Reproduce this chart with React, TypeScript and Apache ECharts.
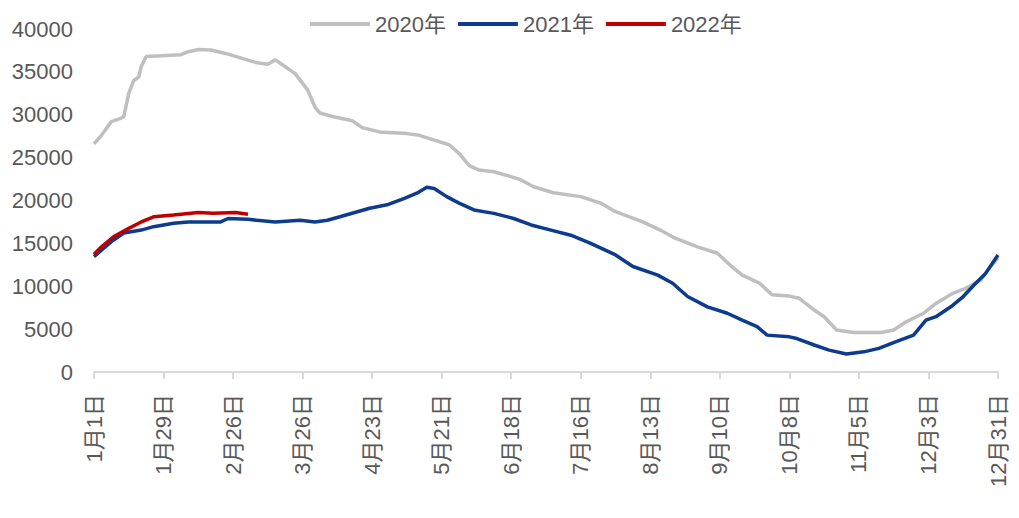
import React, { useEffect, useRef } from "react";
import * as echarts from "echarts";

const tickLabels = ["1月1日", "1月29日", "2月26日", "3月26日", "4月23日", "5月21日", "6月18日", "7月16日", "8月13日", "9月10日", "10月8日", "11月5日", "12月3日", "12月31日"];
const seriesNames = ["2020年", "2021年", "2022年"];

// [day of year (0 = 1月1日), value]
const data2020: [number, number][] = [
  [0, 26600], [3, 27600], [7, 29200], [11, 29600], [12, 29800], [14, 32500], [16, 34000], [18, 34400],
  [19, 35600], [21, 36800], [35, 37000], [38, 37350], [42, 37600], [47, 37550], [53, 37150], [57, 36800],
  [65, 36100], [70, 35900], [73, 36400], [75, 36000], [81, 34800], [86, 32900], [89, 30900], [91, 30200],
  [96, 29800], [104, 29300], [108, 28500], [115, 28000], [126, 27800], [131, 27600], [137, 27050],
  [143, 26500], [147, 25500], [151, 24100], [155, 23550], [161, 23350], [166, 22950], [172, 22400],
  [177, 21600], [185, 20900], [196, 20450], [204, 19700], [210, 18700], [221, 17500], [228, 16550],
  [234, 15600], [243, 14600], [251, 13850], [256, 12500], [261, 11300], [268, 10350], [273, 9000],
  [280, 8850], [284, 8600], [290, 7230], [294, 6450], [299, 4900], [306, 4600], [317, 4600], [322, 4900],
  [327, 5850], [334, 6850], [339, 8000], [346, 9200], [351, 9750], [357, 10700], [361, 12300], [364, 13300],
];

const data2021: [number, number][] = [
  [0, 13450], [3, 14200], [7, 15200], [12, 16200], [19, 16550], [24, 16950], [32, 17350], [38, 17500],
  [51, 17500], [54, 17900], [62, 17800], [73, 17500], [83, 17700], [89, 17500], [94, 17700], [99, 18100],
  [111, 19100], [118, 19500], [125, 20250], [130, 20850], [134, 21550], [137, 21400], [142, 20450],
  [147, 19700], [153, 18900], [161, 18500], [169, 17900], [176, 17150], [184, 16550], [192, 15950],
  [200, 15000], [210, 13650], [217, 12300], [227, 11300], [233, 10350], [239, 8800], [247, 7600],
  [255, 6850], [261, 6050], [267, 5300], [271, 4300], [280, 4100], [283, 3900], [290, 3150], [296, 2550],
  [303, 2100], [310, 2350], [316, 2750], [323, 3550], [330, 4300], [335, 6050], [339, 6450], [345, 7600],
  [350, 8800], [355, 10350], [359, 11500], [364, 13650],
];

const data2022: [number, number][] = [
  [0, 13700], [3, 14600], [8, 15800], [14, 16750], [19, 17500], [24, 18100], [32, 18300], [42, 18600],
  [48, 18500], [57, 18600], [62, 18400],
];

const colors = ["#bfbfbf", "#0d3b8e", "#c00000"];
const FONT = "'Liberation Sans', 'Noto Sans CJK SC', sans-serif";

export default function App() {
  const ref = useRef<HTMLDivElement>(null);
  useEffect(() => {
    if (!ref.current) return;
    const chart = echarts.init(ref.current, null, { renderer: "svg" });
    const all = [data2020, data2021, data2022];
    chart.setOption({
      animation: false,
      textStyle: { fontFamily: FONT },
      legend: {
        left: 297,
        top: 0,
        icon: "rect",
        itemWidth: 60,
        itemHeight: 4,
        itemGap: 12,
        textStyle: { fontSize: 22, color: "#595959", fontFamily: FONT },
        data: seriesNames,
      },
      grid: { left: 86, right: 13, top: 21, bottom: 138, containLabel: false },
      xAxis: {
        type: "value",
        min: 0,
        max: 364,
        interval: 28,
        axisLine: { show: true, lineStyle: { color: "#d9d9d9", width: 2 } },
        axisTick: { show: true, length: 7, lineStyle: { color: "#d9d9d9", width: 2 } },
        splitLine: { show: false },
        axisLabel: {
          rotate: 90,
          margin: 22,
          fontSize: 22,
          color: "#595959",
          fontFamily: FONT,
          formatter: (v: number) => tickLabels[Math.round(v / 28)] ?? "",
        },
      },
      yAxis: {
        type: "value",
        min: 0,
        max: 40000,
        interval: 5000,
        axisLine: { show: false },
        axisTick: { show: false },
        splitLine: { show: false },
        axisLabel: { fontSize: 22, color: "#595959", margin: 21, fontFamily: FONT, formatter: (v: number) => String(v) },
      },
      series: seriesNames.map((name, i) => ({
        name,
        type: "line",
        data: all[i],
        showSymbol: false,
        symbol: "none",
        lineStyle: { color: colors[i], width: 3.5 },
        itemStyle: { color: colors[i] },
        z: 2 + i,
      })),
    });
    return () => chart.dispose();
  }, []);
  return <div ref={ref} style={{ width: 1003, height: 502 }} />;
}
